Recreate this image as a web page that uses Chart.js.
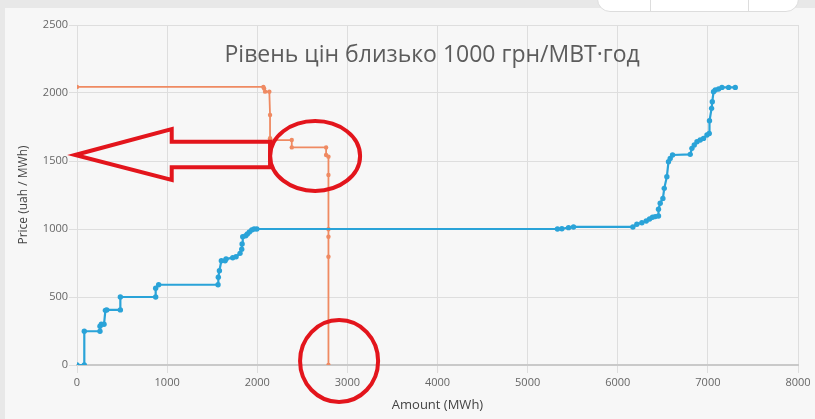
<!DOCTYPE html>
<html>
<head>
<meta charset="utf-8">
<script src="https://cdn.jsdelivr.net/npm/chart.js@4.4.1/dist/chart.umd.min.js"></script>
<style>
  html, body { margin: 0; padding: 0; }
  body { width: 815px; height: 419px; background: #e8e8e8; position: relative; overflow: hidden; }
  #card { position: absolute; left: 5px; top: 8px; width: 810px; height: 411px; background: #f7f7f7; }
  #toolbar { position: absolute; left: 597px; top: -14px; width: 202px; height: 26px; background: #fff;
             border: 1px solid #ddd; border-radius: 13px; box-sizing: border-box; }
  #toolbar .sep { position: absolute; top: 0; width: 1px; height: 100%; background: #ddd; }
</style>
</head>
<body>
<div id="card"><canvas id="bidChart" width="810" height="411"></canvas></div>
<div id="toolbar"><div class="sep" style="left:52px"></div><div class="sep" style="left:150px"></div></div>
<script>
// supply curve (blue)
const supplyAmount = [0, 81, 81, 255, 255, 270, 300, 315, 330, 481, 481, 873, 873, 906, 1565, 1568, 1580, 1602, 1643, 1654,
  1728, 1765, 1809, 1828, 1832, 1839, 1872, 1890, 1913, 1939, 1965, 1995, 5331, 5380, 5454, 5509, 6168, 6212, 6268, 6316,
  6353, 6386, 6416, 6452, 6452, 6471, 6501, 6516, 6545, 6563, 6582, 6608, 6804, 6823, 6849, 6879, 6915, 6952, 6990, 7015,
  7018, 7041, 7049, 7063, 7082, 7119, 7156, 7230, 7304];
const supplyPrice = [0, 0, 248, 248, 285, 300, 300, 402, 405, 405, 500, 500, 564, 590, 590, 645, 693, 767, 767, 779,
  789, 796, 821, 851, 890, 943, 950, 963, 978, 993, 1000, 1000, 1000, 1002, 1010, 1015, 1015, 1035, 1046, 1059,
  1073, 1086, 1091, 1096, 1145, 1189, 1225, 1299, 1385, 1495, 1519, 1544, 1549, 1593, 1618, 1642, 1654, 1666, 1691, 1703,
  1796, 1887, 1936, 2010, 2022, 2029, 2041, 2041, 2041];

// demand curve (orange)
const demandAmount = [0, 2068, 2076, 2087, 2134, 2142, 2142, 2142, 2383, 2383, 2764, 2764, 2790, 2790, 2790, 2790, 2790, 2790];
const demandPrice = [2045, 2045, 2034, 2010, 2010, 1838, 1667, 1654, 1654, 1600, 1600, 1544, 1532, 1397, 998, 943, 796, 0];

const xTicks = [0, 1000, 2000, 3000, 4000, 5000, 6000, 7000, 8000];
const yTicks = [0, 500, 1000, 1500, 2000, 2500];

const noteText = "Рівень цін близько 1000 грн/МВТ·год";

function toPoints(xs, ys) {
  return xs.map((x, i) => ({ x: x, y: ys[i] }));
}

// red hand-drawn marks, in data units
const arrowShape = [[-22, 1544], [1051, 1735], [1051, 1642], [2142, 1642], [2142, 1454], [1051, 1454], [1051, 1360]];
const ellipses = [
  { cx: 2642, cy: 1537, rx: 499, ry: 257 },
  { cx: 2908, cy: 29, rx: 433, ry: 301 }
];

const overlay = {
  id: "overlay",
  afterDraw(chart) {
    const { ctx, scales: { x, y } } = chart;
    ctx.save();
    ctx.fillStyle = "#5c5c5c";
    ctx.font = "23px 'Open Sans'";
    ctx.textAlign = "center";
    ctx.textBaseline = "middle";
    ctx.fillText(noteText, x.getPixelForValue(3940), y.getPixelForValue(2279));

    ctx.strokeStyle = "#e3151c";
    ctx.lineWidth = 4;
    ctx.lineJoin = "miter";
    ctx.beginPath();
    arrowShape.forEach((p, i) => {
      const px = x.getPixelForValue(p[0]), py = y.getPixelForValue(p[1]);
      if (i === 0) ctx.moveTo(px, py); else ctx.lineTo(px, py);
    });
    ctx.closePath();
    ctx.stroke();

    ellipses.forEach(e => {
      const cx = x.getPixelForValue(e.cx), cy = y.getPixelForValue(e.cy);
      const rx = x.getPixelForValue(e.cx + e.rx) - cx;
      const ry = cy - y.getPixelForValue(e.cy + e.ry);
      ctx.beginPath();
      ctx.ellipse(cx, cy, rx, ry, 0, 0, Math.PI * 2);
      ctx.stroke();
    });
    ctx.restore();
  }
};

const ctx = document.getElementById("bidChart").getContext("2d");
new Chart(ctx, {
  type: "scatter",
  data: {
    datasets: [
      {
        label: "Supply",
        data: toPoints(supplyAmount, supplyPrice),
        showLine: true,
        borderColor: "#2aa3d8",
        backgroundColor: "#2aa3d8",
        borderWidth: 2.2,
        pointRadius: 2.7,
        pointBorderWidth: 0,
        tension: 0
      },
      {
        label: "Demand",
        data: toPoints(demandAmount, demandPrice),
        showLine: true,
        borderColor: "#ef8a62",
        backgroundColor: "#ef8a62",
        borderWidth: 1.8,
        pointRadius: 2.2,
        pointBorderWidth: 0,
        tension: 0
      }
    ]
  },
  options: {
    responsive: false,
    animation: false,
    layout: { padding: { top: 17, right: 17, bottom: 0, left: 0 } },
    plugins: {
      legend: { display: false },
      tooltip: { enabled: false }
    },
    scales: {
      x: {
        type: "linear",
        min: 0,
        max: 8000,
        afterBuildTicks: (axis) => { axis.ticks = xTicks.map(v => ({ value: v })); },
        afterFit: (axis) => { axis.height = 54; },
        grid: { color: "#dedede", tickLength: 8 },
        border: { color: "#c9c9c9", width: 2 },
        ticks: { color: "#666", font: { family: "Open Sans", size: 11 }, padding: 3, maxRotation: 0, callback: v => String(v) },
        title: { display: true, text: "Amount (MWh)", color: "#444", font: { family: "Open Sans", size: 13 }, padding: { top: 0, bottom: 6 } }
      },
      y: {
        min: 0,
        max: 2500,
        afterBuildTicks: (axis) => { axis.ticks = yTicks.map(v => ({ value: v })); },
        afterFit: (axis) => { axis.width = 72; },
        grid: { color: "#dedede", tickLength: 8 },
        border: { color: "#dedede" },
        ticks: { color: "#666", font: { family: "Open Sans", size: 11 }, padding: 1, callback: v => String(v) },
        title: { display: true, text: "Price (uah / MWh)", color: "#444", font: { family: "Open Sans", size: 12 }, padding: { top: 11, bottom: 0 } }
      }
    }
  },
  plugins: [overlay]
});
</script>
</body>
</html>
